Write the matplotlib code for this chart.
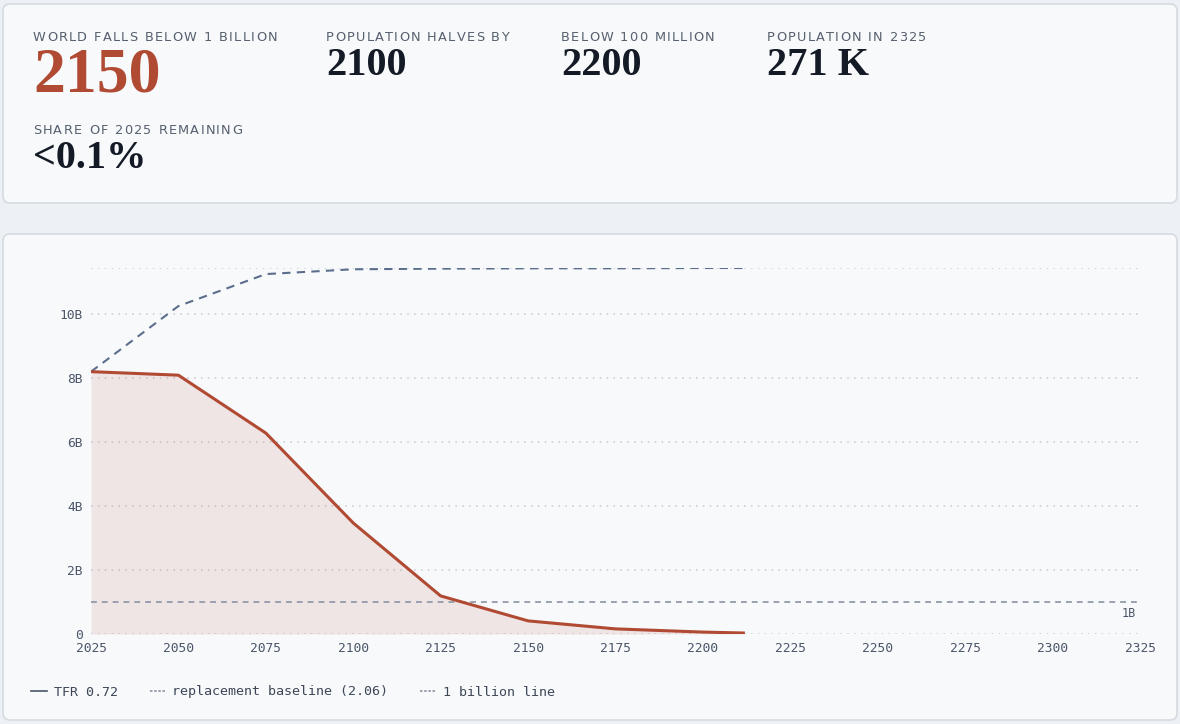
import matplotlib.pyplot as plt
from matplotlib.patches import FancyBboxPatch
from matplotlib.lines import Line2D
from matplotlib.transforms import IdentityTransform
from matplotlib.ticker import FuncFormatter

# ====================== data ======================
years = [2025, 2050, 2075, 2100, 2125, 2150, 2175, 2200, 2212]
tfr_pop = [8.20, 8.09, 6.28, 3.47, 1.19, 0.41, 0.16, 0.06, 0.03]          # billions
baseline_pop = [8.20, 10.25, 11.25, 11.40, 11.42, 11.43, 11.43, 11.44, 11.44]
billion_line = 1.0

stat_labels = ["WORLD FALLS BELOW 1 BILLION", "POPULATION HALVES BY", "BELOW 100 MILLION",
               "POPULATION IN 2325", "SHARE OF 2025 REMAINING"]
stat_values = ["2150", "2100", "2200", "271 K", "<0.1%"]

legend_labels = ["TFR 0.72", "replacement baseline (2.06)", "1 billion line"]
x_ticks = list(range(2025, 2326, 25))
y_ticks = [0, 2, 4, 6, 8, 10]

# ====================== style ======================
W, H = 1180, 724
RED = "#b04a33"
SLATE = "#5b6f8c"
GRID = "#c4cbd4"
TXT = "#4a5568"
mono = "DejaVu Sans Mono"

fig = plt.figure(figsize=(W / 100, H / 100), dpi=100, facecolor="#edf0f4")
renderer = fig.canvas.get_renderer()


def card(x0, y0, x1, y1):
    # pixel coords measured from the top-left
    p = FancyBboxPatch((x0, H - y1), x1 - x0, y1 - y0,
                       boxstyle="round,pad=0,rounding_size=7",
                       transform=IdentityTransform(), facecolor="#f8f9fb",
                       edgecolor="#d6dbe2", linewidth=1.2, zorder=0)
    fig.add_artist(p)


def tracked(x, y, s, spacing=1.25, **kw):
    # label text with letter spacing, x/y in pixels from top-left
    for ch in s:
        t = fig.text(x / W, 1 - y / H, ch, va="top", ha="left", **kw)
        w = t.get_window_extent(renderer).width if ch != " " else \
            fig.text(0, 0, "n", alpha=0, **kw).get_window_extent(renderer).width * 0.55
        x += w + spacing


card(3, 4, 1177, 203)
card(3, 234, 1177, 720)

# ====================== stat cards ======================
stat_pos = [(33, 31), (326, 31), (561, 31), (767, 31), (33, 124)]
for i, (lab, val) in enumerate(zip(stat_labels, stat_values)):
    x, y = stat_pos[i]
    tracked(x, y, lab, fontsize=9.3, color="#56606e", family="DejaVu Sans")
    big = i == 0
    fig.text(x / W, 1 - (y + (17 if big else 16)) / H, val,
             fontsize=46 if big else 29, color=RED if big else "#141b26",
             family="Liberation Serif", fontweight="bold", va="top", ha="left")

# ====================== chart ======================
ax = fig.add_axes([91 / W, 1 - 634 / H, (1140 - 91) / W, (634 - 268) / H])
ax.set_facecolor("none")
ymax = max(baseline_pop)
ax.set_xlim(x_ticks[0], x_ticks[-1])
ax.set_ylim(0, ymax)

for yv in y_ticks + [ymax]:
    ax.axhline(yv, color=GRID, lw=1.1, ls=(0, (1, 3.5)), zorder=1)

ax.fill_between(years, tfr_pop, 0, color=RED, alpha=0.11, lw=0, zorder=2)
ax.plot(years, tfr_pop, color=RED, lw=2.2, zorder=4, solid_capstyle="butt")
ax.plot(years, baseline_pop, color=SLATE, lw=1.5, ls=(0, (4, 3)), zorder=3)
ax.axhline(billion_line, color="#8a94a3", lw=1.2, ls=(0, (3.5, 3)), zorder=3)
ax.annotate("1B", xy=(x_ticks[-1], billion_line), xytext=(-4, -11),
            textcoords="offset pixels", ha="right", va="center",
            fontsize=8.5, family=mono, color=TXT)

for s in ax.spines.values():
    s.set_visible(False)
ax.set_xticks(x_ticks)
ax.set_yticks(y_ticks)
ax.yaxis.set_major_formatter(FuncFormatter(lambda v, p: "0" if v == 0 else f"{v:.0f}B"))
ax.tick_params(length=0, labelsize=9.3, labelcolor=TXT, pad=6)
for t in ax.get_xticklabels() + ax.get_yticklabels():
    t.set_family(mono)

# ====================== legend ======================
handles = [Line2D([], [], color="#4a5568", lw=1.2),
           Line2D([], [], color="#8a94a3", lw=1.2, ls=(0, (1.5, 1))),
           Line2D([], [], color="#8a94a3", lw=1.2, ls=(0, (1.5, 1)))]
leg = fig.legend(handles, legend_labels, loc="center left",
                 bbox_to_anchor=(31 / W, 1 - 692 / H), ncol=3, frameon=False,
                 borderpad=0, borderaxespad=0, handlelength=1.2,
                 handletextpad=0.5, columnspacing=2.4,
                 prop={"family": mono, "size": 9.6})
for t in leg.get_texts():
    t.set_color("#3d4757")

fig.savefig("out.png", dpi=100, facecolor=fig.get_facecolor())
